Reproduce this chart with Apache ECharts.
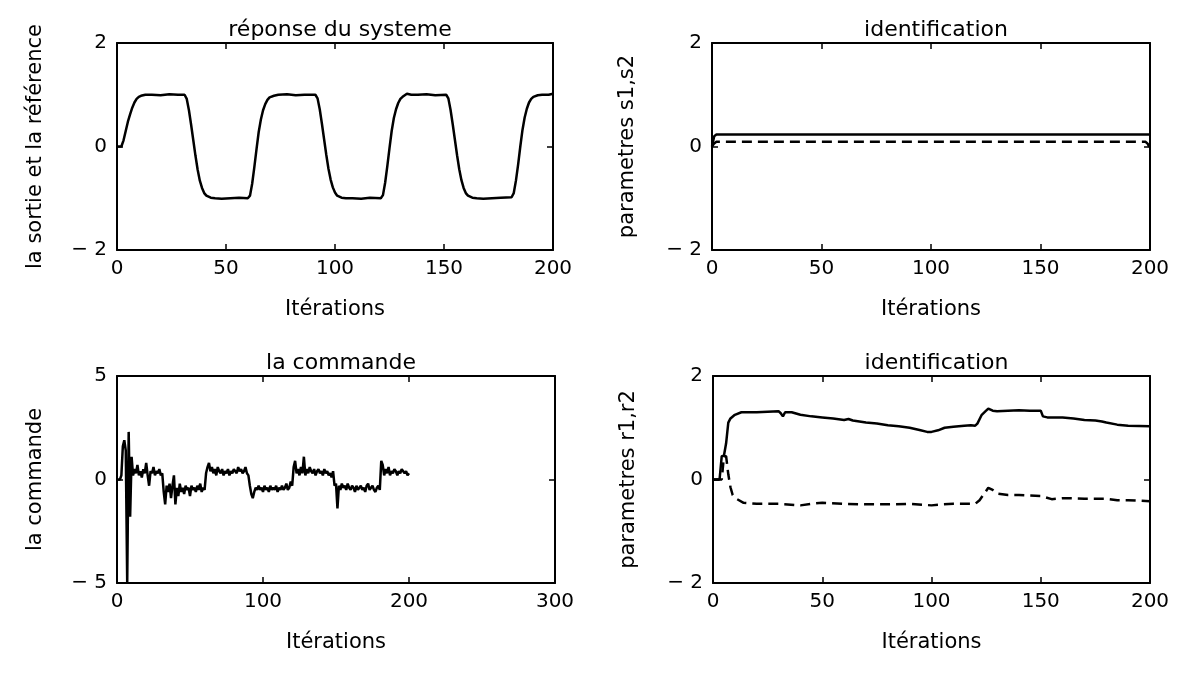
<!DOCTYPE html>
<html>
<head>
<meta charset="utf-8">
<script src="https://cdn.jsdelivr.net/npm/echarts@6/dist/echarts.min.js"></script>
<style>html,body{margin:0;padding:0;background:#fff}#c{width:1180px;height:673px}</style>
</head>
<body>
<div id="c"></div>
<script>
// ---- data ----
const titles = ['réponse du systeme', 'identification', 'la commande', 'identification'];
const yNames = ['la sortie et la référence', 'parametres s1,s2', 'la commande', 'parametres r1,r2'];
const xName = 'Itérations';

// top-left: system output (sortie)
const sortieX = [0,2,3,4,5,6,7,8,9,10,11,13,16,20,24,28,31,
  32,33,34,35,36,37,38,39,40,41,43,45, 48,52,56,60,
  61,62,63,64,65,66,67,68,69,70,72,74, 78,82,86,91,
  92,93,94,95,96,97,98,99,100,101,103,105, 108,112,116,121,
  122,123,124,125,126,127,128,129,130,131,133,135, 138,142,146,151,
  152,153,154,155,156,157,158,159,160,161,163,165, 168,172,176,181,
  182,183,184,185,186,187,188,189,190,191,193,195, 198,200];
const sortieY = [0,0,0.12,0.3,0.48,0.62,0.75,0.85,0.92,0.96,0.98,1.0,1.0,0.99,1.01,1.0,1.0,
  0.92,0.7,0.42,0.12,-0.18,-0.45,-0.66,-0.8,-0.9,-0.95,-0.99,-1.0, -1.01,-1.0,-0.99,-1.0,
  -0.95,-0.72,-0.4,-0.05,0.28,0.52,0.7,0.82,0.9,0.95,0.98,1.0, 1.01,0.99,1.0,1.0,
  0.93,0.72,0.44,0.14,-0.16,-0.43,-0.64,-0.79,-0.89,-0.95,-0.99,-1.0, -1.0,-1.01,-0.99,-1.0,
  -0.94,-0.7,-0.38,-0.03,0.3,0.55,0.72,0.84,0.92,0.96,1.02,1.0, 1.0,1.01,0.99,1.0,
  0.93,0.71,0.43,0.13,-0.17,-0.44,-0.65,-0.8,-0.9,-0.95,-0.99,-1.0, -1.01,-1.0,-0.99,-0.98,
  -0.9,-0.66,-0.35,0.0,0.32,0.56,0.73,0.85,0.92,0.96,0.99,1.0, 1.0,1.02];

// top-right: parameters s1 (solid), s2 (dashed)
const s1X = [0,1,2,200];
const s1Y = [0,0.2,0.23,0.23];
const s2X = [0,1,2,198,199,200];
const s2Y = [0,0.06,0.09,0.09,0.05,-0.04];

// bottom-left: control signal, one value per iteration 0..200
const commande = [0,0,0,0.2,1.6,1.9,1.4,-5,2.3,-1.8,1.1,0.2,0.5,0.3,0.7,0.2,0.4,0.1,0.5,0.3,
  0.8,0.2,-0.3,0.4,0.3,0.6,0.2,0.4,0.3,0.5,0.2,0.3,-0.6,-1.2,-0.3,-0.6,-0.2,-0.9,-0.3,0.2,
  -1.2,-0.4,-0.8,-0.2,-0.6,-0.4,-0.7,-0.3,-0.5,-0.4,-0.8,-0.3,-0.5,-0.4,-0.6,-0.3,-0.5,-0.2,-0.6,-0.4,
  -0.5,0.3,0.6,0.8,0.4,0.6,0.3,0.5,0.2,0.6,0.4,0.3,0.5,0.2,0.4,0.3,0.5,0.2,0.4,0.3,
  0.5,0.4,0.3,0.6,0.4,0.5,0.3,0.4,0.6,0.3,0.2,-0.3,-0.7,-0.9,-0.6,-0.4,-0.5,-0.3,-0.5,-0.4,
  -0.6,-0.3,-0.5,-0.4,-0.6,-0.3,-0.5,-0.4,-0.5,-0.3,-0.6,-0.4,-0.5,-0.3,-0.5,-0.4,-0.2,-0.5,-0.4,-0.1,
  -0.3,0.6,0.9,0.3,0.5,0.2,0.6,0.3,1.1,0.2,0.5,0.3,0.6,0.4,0.3,0.5,0.2,0.4,0.5,0.3,
  0.4,0.2,0.5,0.3,0.4,0.2,0.3,0.1,0.4,-0.3,-0.2,-1.4,-0.3,-0.5,-0.2,-0.4,-0.3,-0.5,-0.2,-0.4,
  -0.5,-0.3,-0.4,-0.6,-0.3,-0.5,-0.4,-0.3,-0.5,-0.4,-0.6,-0.3,-0.2,-0.5,-0.4,-0.3,-0.5,-0.6,-0.4,-0.3,
  -0.5,0.9,0.7,0.2,0.5,0.3,0.6,0.2,0.4,0.3,0.5,0.4,0.2,0.4,0.3,0.5,0.4,0.3,0.4,0.2,
  0.3];

// bottom-right: parameters r1 (solid), r2 (dashed)
const r1X = [0,3,4,5,6,7,8,10,13,20,25,30,31,32,33,36,40,45,50,55,60,62,64,70,75,80,85,90,95,98,100,103,106,110,115,118,120,121,123,125,126,128,130,135,140,145,150,151,153,160,165,170,175,178,180,185,190,200];
const r1Y = [0,0,0.45,0.46,0.7,1.1,1.18,1.25,1.3,1.3,1.31,1.32,1.28,1.22,1.3,1.3,1.25,1.22,1.2,1.18,1.15,1.17,1.14,1.1,1.08,1.05,1.03,1.0,0.95,0.92,0.92,0.95,1.0,1.02,1.04,1.05,1.04,1.08,1.25,1.33,1.37,1.33,1.32,1.33,1.34,1.33,1.33,1.22,1.2,1.2,1.18,1.15,1.14,1.12,1.1,1.06,1.04,1.03];
const r2X = [0,4,5,6,7,8,9,11,14,20,30,40,45,50,60,70,80,90,100,105,110,120,122,124,126,128,130,135,140,150,155,160,170,180,185,190,200];
const r2Y = [0,0,0.45,0.45,0.1,-0.15,-0.3,-0.38,-0.45,-0.47,-0.47,-0.5,-0.47,-0.45,-0.47,-0.48,-0.48,-0.47,-0.5,-0.48,-0.47,-0.47,-0.4,-0.28,-0.16,-0.2,-0.27,-0.3,-0.3,-0.32,-0.38,-0.36,-0.37,-0.37,-0.4,-0.4,-0.42];

// axis ranges
const xRanges = [[0,200,50],[0,200,50],[0,300,100],[0,200,50]];
const yRanges = [[-2,2,2],[-2,2,2],[-5,5,5],[-2,2,2]];

const pair = (xs, ys) => xs.map((x, i) => [x, ys[i]]);

// ---- layout ----
const grids = [
  {left:117, top:43, width:436, height:207},
  {left:712, top:43, width:438, height:207},
  {left:117, top:376, width:438, height:207},
  {left:713, top:376, width:437, height:207}
];
const FONT = 'DejaVu Sans';
const ink = '#000';
const fmtNum = v => (v < 0 ? '\u2212 ' + Math.abs(v) : String(v));

const xAxis = [], yAxis = [], title = [];
grids.forEach((g, i) => {
  const [xmin, xmax, xi] = xRanges[i];
  const [ymin, ymax, yi] = yRanges[i];
  const common = {
    splitLine:{show:false},
    axisLine:{show:true, onZero:false, lineStyle:{color:ink, width:2}},
    axisTick:{show:true, inside:true, length:6, lineStyle:{color:ink, width:1.5}}
  };
  xAxis.push(Object.assign({}, common, {
    gridIndex:i, type:'value', position:'bottom', min:xmin, max:xmax, interval:xi,
    name:xName, nameLocation:'middle', nameGap:49,
    nameTextStyle:{fontFamily:FONT, fontSize:21, color:ink},
    axisLabel:{fontFamily:FONT, fontSize:20, color:ink, margin:9}
  }));
  xAxis.push(Object.assign({}, common, {
    gridIndex:i, type:'value', position:'top', min:xmin, max:xmax, interval:xi,
    axisLabel:{show:false}
  }));
  yAxis.push(Object.assign({}, common, {
    gridIndex:i, type:'value', position:'left', min:ymin, max:ymax, interval:yi,
    name:yNames[i], nameLocation:'middle', nameGap: (i % 2 === 0) ? 71 : 74,
    nameTextStyle:{fontFamily:FONT, fontSize:21, color:ink},
    axisLabel:{fontFamily:FONT, fontSize:20, color:ink, margin:10, formatter:fmtNum}
  }));
  yAxis.push(Object.assign({}, common, {
    gridIndex:i, type:'value', position:'right', min:ymin, max:ymax, interval:yi,
    axisLabel:{show:false}
  }));
  title.push({
    text:titles[i], left:g.left + g.width/2, top:g.top - 29, textAlign:'center',
    textStyle:{fontFamily:FONT, fontSize:22, fontWeight:'normal', color:ink}
  });
});

const lineS = (xi, yi, data, dashed) => ({
  type:'line', xAxisIndex:xi, yAxisIndex:yi, data, showSymbol:false, symbol:'none',
  animation:false, silent:true,
  lineStyle:{color:ink, width:2.5, type: dashed ? [10,6] : 'solid'}
});

const option = {
  backgroundColor:'#fff',
  animation:false,
  title,
  grid: grids.map(g => Object.assign({containLabel:false}, g)),
  xAxis, yAxis,
  series:[
    lineS(0, 0, pair(sortieX, sortieY), false),
    lineS(2, 2, pair(s1X, s1Y), false),
    lineS(2, 2, pair(s2X, s2Y), true),
    lineS(4, 4, commande.map((v, i) => [i, v]), false),
    lineS(6, 6, pair(r1X, r1Y), false),
    lineS(6, 6, pair(r2X, r2Y), true)
  ]
};
const chart = echarts.init(document.getElementById('c'), null, {renderer:'canvas'});
chart.setOption(option);
</script>
</body>
</html>
